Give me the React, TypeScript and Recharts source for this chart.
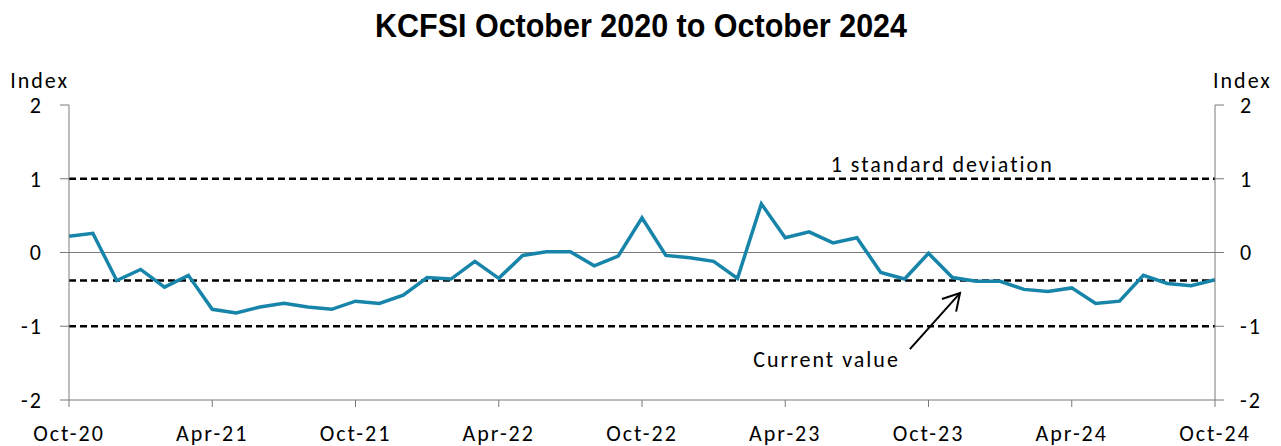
import { LineChart, Line, XAxis, YAxis, ReferenceLine } from "recharts";

const months = [
  "Oct-20", "Nov-20", "Dec-20", "Jan-21", "Feb-21", "Mar-21", "Apr-21", "May-21", "Jun-21", "Jul-21",
  "Aug-21", "Sep-21", "Oct-21", "Nov-21", "Dec-21", "Jan-22", "Feb-22", "Mar-22", "Apr-22", "May-22",
  "Jun-22", "Jul-22", "Aug-22", "Sep-22", "Oct-22", "Nov-22", "Dec-22", "Jan-23", "Feb-23", "Mar-23",
  "Apr-23", "May-23", "Jun-23", "Jul-23", "Aug-23", "Sep-23", "Oct-23", "Nov-23", "Dec-23", "Jan-24",
  "Feb-24", "Mar-24", "Apr-24", "May-24", "Jun-24", "Jul-24", "Aug-24", "Sep-24", "Oct-24",
];

const kcfsi = [
  0.22, 0.26, -0.38, -0.23, -0.47, -0.31, -0.77, -0.82, -0.74, -0.69,
  -0.74, -0.77, -0.66, -0.69, -0.58, -0.34, -0.36, -0.12, -0.35, -0.04,
  0.01, 0.01, -0.18, -0.05, 0.47, -0.04, -0.07, -0.12, -0.35, 0.66,
  0.2, 0.28, 0.13, 0.2, -0.27, -0.36, -0.01, -0.34, -0.39, -0.39,
  -0.5, -0.53, -0.48, -0.69, -0.66, -0.31, -0.42, -0.45, -0.37,
];

const xTicks = [0, 6, 12, 18, 24, 30, 36, 42, 48];
const yTicks = [-2, -1, 0, 1, 2];
const stdDev = 1;
const currentValue = -0.38;
// annotation arrow: from label to the current-value line
const arrowFrom = { x: 35.22, y: -1.31 };
const arrowTo = { x: 37.32, y: -0.55 };

const data = months.map((m, i) => ({ i, month: m, kcfsi: kcfsi[i] }));

const FONT = "Carlito, Calibri, Lato, sans-serif";
const tickStyle = { fontSize: 22, fill: "#000", fontFamily: FONT, letterSpacing: 2 };
const dashed = { stroke: "#000", strokeWidth: 2.5, strokeDasharray: "7 4" };

function Arrow(props: any) {
  const { x1, y1, x2, y2 } = props;
  const ang = Math.atan2(y1 - y2, x1 - x2);
  const len = 19;
  const spread = Math.PI / 6;
  const h1 = { x: x2 + len * Math.cos(ang - spread), y: y2 + len * Math.sin(ang - spread) };
  const h2 = { x: x2 + len * Math.cos(ang + spread), y: y2 + len * Math.sin(ang + spread) };
  return (
    <g>
      <line x1={x1} y1={y1} x2={x2} y2={y2} stroke="#000" strokeWidth={2} />
      <polyline points={`${h1.x},${h1.y} ${x2},${y2} ${h2.x},${h2.y}`} fill="none" stroke="#000" strokeWidth={2} />
      <text x={x1 - 10} y={y1 + 18} textAnchor="end" style={tickStyle}>
        Current value
      </text>
    </g>
  );
}

export default function App() {
  return (
    <div style={{ position: "absolute", left: 0, top: 0, width: 1281, height: 446, background: "#fff" }}>
      <svg width={1281} height={50} style={{ position: "absolute", left: 0, top: 0 }}>
        <text
          x={641}
          y={37}
          textAnchor="middle"
          textLength={532}
          lengthAdjust="spacingAndGlyphs"
          style={{ fontFamily: "'Liberation Sans', Arial, sans-serif", fontWeight: 700, fontSize: 33, fill: "#000" }}
        >
          KCFSI October 2020 to October 2024
        </text>
      </svg>
      <LineChart
        width={1281}
        height={446}
        data={data}
        margin={{ top: 105, right: 0, bottom: 0, left: 0 }}
        style={{ position: "absolute", left: 0, top: 0 }}
      >
        <XAxis
          dataKey="i"
          type="number"
          domain={[0, 48]}
          ticks={xTicks}
          tickFormatter={(v: number) => months[v]}
          interval={0}
          height={46}
          tickSize={7}
          tickMargin={18}
          stroke="#7a7a7a"
          tick={tickStyle}
        />
        <YAxis
          yAxisId="left"
          domain={[-2, 2]}
          ticks={yTicks}
          width={69}
          tickSize={9}
          tickMargin={17}
          stroke="#7a7a7a"
          tick={tickStyle}
          label={(p: any) => (
            <text x={p.viewBox.x + p.viewBox.width} y={p.viewBox.y - 17} textAnchor="end" style={tickStyle}>
              Index
            </text>
          )}
        />
        <YAxis
          yAxisId="right"
          orientation="right"
          domain={[-2, 2]}
          ticks={yTicks}
          width={66}
          tickSize={9}
          tickMargin={16}
          stroke="#7a7a7a"
          tick={tickStyle}
          label={(p: any) => (
            <text x={p.viewBox.x - 2} y={p.viewBox.y - 17} textAnchor="start" style={tickStyle}>
              Index
            </text>
          )}
        />
        <ReferenceLine yAxisId="left" y={0} stroke="#7a7a7a" strokeWidth={1} />
        <ReferenceLine
          yAxisId="left"
          y={stdDev}
          {...dashed}
          label={(p: any) => (
            <text
              x={p.viewBox.x + p.viewBox.width * 0.762}
              y={p.viewBox.y - 7}
              textAnchor="middle"
              style={tickStyle}
            >
              1 standard deviation
            </text>
          )}
        />
        <ReferenceLine yAxisId="left" y={-stdDev} {...dashed} />
        <ReferenceLine yAxisId="left" y={currentValue} {...dashed} />
        <ReferenceLine yAxisId="left" segment={[arrowFrom, arrowTo]} shape={Arrow} />
        <Line
          yAxisId="right"
          type="linear"
          dataKey="kcfsi"
          stroke="none"
          dot={false}
          activeDot={false}
          isAnimationActive={false}
        />
        <Line
          yAxisId="left"
          type="linear"
          dataKey="kcfsi"
          stroke="#1784a9"
          strokeWidth={3.5}
          dot={false}
          isAnimationActive={false}
        />
      </LineChart>
    </div>
  );
}
